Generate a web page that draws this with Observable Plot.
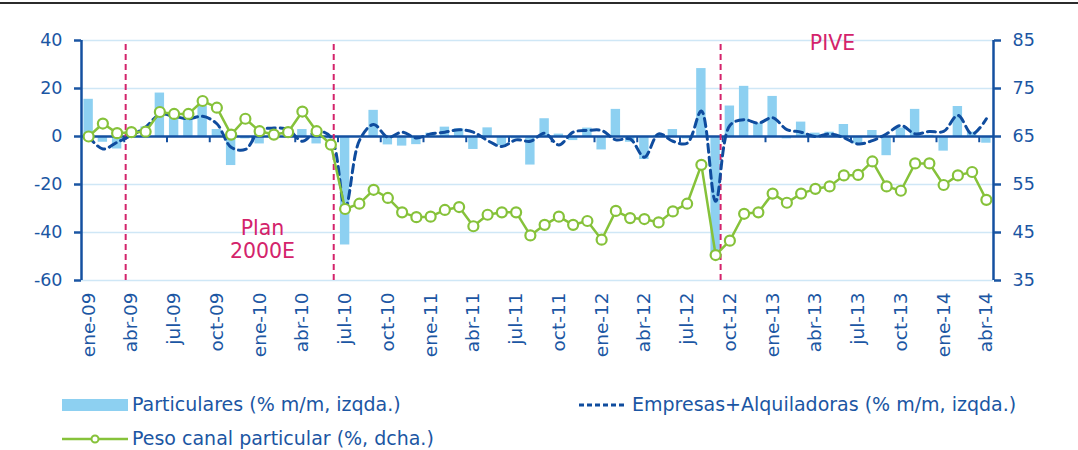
<!DOCTYPE html>
<html><head><meta charset="utf-8">
<script src="https://cdn.jsdelivr.net/npm/d3@7"></script>
<script src="https://cdn.jsdelivr.net/npm/@observablehq/plot@0.6"></script>
<style>
body{margin:0;background:#fff;font-family:"DejaVu Sans",sans-serif;}
#wrap{position:relative;width:1078px;height:450px;overflow:hidden;}
#topline{position:absolute;left:0;top:2px;width:1078px;height:2px;background:#2b2b2b;}
#chart{position:absolute;left:0;top:0;}
.leg{position:absolute;font-size:19px;color:#1b56a3;white-space:nowrap;line-height:22px;}
.leg svg{vertical-align:middle;margin-right:4px;position:relative;top:-1px;}
</style></head>
<body>
<div id="wrap">
<div id="chart"></div>
<div id="topline"></div>
<div class="leg" style="left:62px;top:393px"><svg width="66" height="14"><rect x="0" y="1" width="66" height="12" fill="#8dd0f1"/></svg>Particulares (% m/m, izqda.)</div>
<div class="leg" style="left:578px;top:393px"><svg width="50" height="14"><line x1="1" y1="7" x2="49" y2="7" stroke="#0f4c9e" stroke-width="3" stroke-dasharray="5,3"/></svg>Empresas+Alquiladoras (% m/m, izqda.)</div>
<div class="leg" style="left:62px;top:427px"><svg width="66" height="14"><line x1="0" y1="7" x2="66" y2="7" stroke="#86c23a" stroke-width="2.5"/><circle cx="33" cy="7" r="3.5" fill="#fff" stroke="#86c23a" stroke-width="2"/></svg>Peso canal particular (%, dcha.)</div>
</div>
<script>
const meses = ["ene-09","feb-09","mar-09","abr-09","may-09","jun-09","jul-09","ago-09","sep-09","oct-09","nov-09","dic-09",
"ene-10","feb-10","mar-10","abr-10","may-10","jun-10","jul-10","ago-10","sep-10","oct-10","nov-10","dic-10",
"ene-11","feb-11","mar-11","abr-11","may-11","jun-11","jul-11","ago-11","sep-11","oct-11","nov-11","dic-11",
"ene-12","feb-12","mar-12","abr-12","may-12","jun-12","jul-12","ago-12","sep-12","oct-12","nov-12","dic-12",
"ene-13","feb-13","mar-13","abr-13","may-13","jun-13","jul-13","ago-13","sep-13","oct-13","nov-13","dic-13",
"ene-14","feb-14","mar-14","abr-14"];

const particulares = [15.5,-2.4,-5.2,1,4,18.1,8.8,7.4,12.5,2.9,
-12.1,-1,-3.1,0.5,1,2.9,-3.1,-1,-45.2,0,
10.9,-3.5,-4.0,-3.4,1.4,3.9,3.2,-5.4,3.6,-3.8,
-1,-11.9,7.4,1,-1.7,3.5,-5.6,11.3,-2.4,-9.6,
0.5,2.9,-1,28.3,-49.5,12.7,20.9,5.5,16.7,-1.0,
6.0,1.4,1.8,5.0,-3.1,2.5,-8.0,3.5,11.3,0.5,
-6.1,12.5,1.8,-2.8];

const empresas = [0,-5.2,-2.4,0.5,3.9,9.2,8.4,7.4,8.4,5.3,
-4.5,-5.4,2.5,3.5,2.9,-2.0,2.2,-0.3,-29.6,-1.7,
5.0,-0.3,1.8,-0.6,1.1,1.8,2.8,1.8,-1.7,-4.2,
-1.4,-2.0,1.4,-3.5,1.8,2.5,2.5,-1.4,-1.0,-8.6,
1.1,-2.0,-2.8,10.6,-27,4.6,7.0,5.6,7.8,2.9,
1.8,0,1.1,-0.5,-3.1,-1.7,1.1,4.6,1.1,2.1,
2.1,8.8,1.0,7.4];

const peso = [65.0,67.7,65.7,65.9,66.0,70.1,69.7,69.7,72.4,71.0,
65.4,68.7,66.1,65.4,65.9,70.2,66.1,63.3,49.9,51.0,
53.9,52.2,49.2,48.2,48.3,49.7,50.3,46.3,48.7,49.2,
49.2,44.4,46.6,48.3,46.6,47.4,43.5,49.5,48.0,47.8,
47.1,49.4,51.0,59.1,40.3,43.3,48.9,49.2,53.1,51.2,
53.1,54.1,54.6,56.9,57.0,59.8,54.6,53.7,59.4,59.4,
54.9,56.9,57.6,51.8];

const ticksIzq = [-60,-40,-20,0,20,40];
const ticksDcha = [35,45,55,65,75,85];
const etiquetasX = ["ene-09","abr-09","jul-09","oct-09","ene-10","abr-10","jul-10","oct-10","ene-11","abr-11","jul-11","oct-11",
"ene-12","abr-12","jul-12","oct-12","ene-13","abr-13","jul-13","oct-13","ene-14","abr-14"];
// event markers (month index position) and annotations
const eventos = [2.6, 17.2, 44.35];
const anotaciones = [{mes: 12.2, valor: -42.7, texto: "Plan\n2000E"}, {mes: 52.2, valor: 39.2, texto: "PIVE"}];

const datos = meses.map((m, i) => ({i, mes: m, particulares: particulares[i], empresas: empresas[i], peso: peso[i]}));
// right axis (65 ↔ 0, 10 pts ↔ 20 pts)
const aIzq = v => (v - 65) * 2;
const aDcha = v => v / 2 + 65;

const azul = "#1b56a3", ejes = "#1450a0", verde = "#86c23a", rojo = "#d4236b";
const tickIdx = etiquetasX.map(l => meses.indexOf(l));
const bordes = tickIdx.filter(i => i > 0).map(i => i - 0.5);

const chart = Plot.plot({
  width: 1078, height: 380,
  marginTop: 40, marginBottom: 100, marginLeft: 81, marginRight: 85,
  style: {fontSize: "17px", fontFamily: "'DejaVu Sans', sans-serif", color: azul, background: "transparent", overflow: "visible"},
  x: {type: "linear", domain: [-0.5, meses.length - 0.5], axis: null},
  y: {domain: [-60, 40], axis: null},
  marks: [
    Plot.gridY(ticksIzq.filter(t => t !== 0), {stroke: "#cfe7f6", strokeOpacity: 1, strokeWidth: 1.5}),
    Plot.rect(datos, {x1: d => d.i - 0.33, x2: d => d.i + 0.33, y1: 0, y2: "particulares", fill: "#8dd0f1"}),
    Plot.ruleY([0], {stroke: ejes, strokeWidth: 2.5}),
    Plot.ruleX(bordes, {y1: 0, y2: -2.6, stroke: ejes, strokeWidth: 2}),
    Plot.ruleX(eventos, {y1: -60, y2: 40, stroke: rojo, strokeWidth: 2, strokeDasharray: "6,4"}),
    Plot.line(datos, {x: "i", y: "empresas", stroke: "#0f4c9e", strokeWidth: 3, strokeDasharray: "8,5", curve: "catmull-rom"}),
    Plot.line(datos, {x: "i", y: d => aIzq(d.peso), stroke: verde, strokeWidth: 2.5}),
    Plot.dot(datos, {x: "i", y: d => aIzq(d.peso), r: 5, fill: "#fff", stroke: verde, strokeWidth: 2.2}),
    Plot.ruleX([-0.5, meses.length - 0.5], {y1: -60, y2: 40, stroke: ejes, strokeWidth: 2.5}),
    Plot.axisY(ticksIzq, {anchor: "left", tickSize: 7, tickPadding: 12, color: azul, strokeWidth: 2.5, fontSize: 17.5, tickFormat: v => String(v)}),
    Plot.axisY(ticksDcha.map(aIzq), {anchor: "right", tickSize: 7, tickPadding: 12, color: azul, strokeWidth: 2.5, fontSize: 17.5, tickFormat: v => String(aDcha(v))}),
    Plot.axisX(tickIdx, {anchor: "bottom", tickSize: 0, tickPadding: 12, tickRotate: -90, color: azul, fontSize: 18.5, tickFormat: i => meses[i]}),
    Plot.text(anotaciones, {x: "mes", y: "valor", text: "texto", fill: rojo, fontSize: 20.5, lineHeight: 1.12})
  ]
});
document.getElementById("chart").appendChild(chart);
</script>
</body></html>
